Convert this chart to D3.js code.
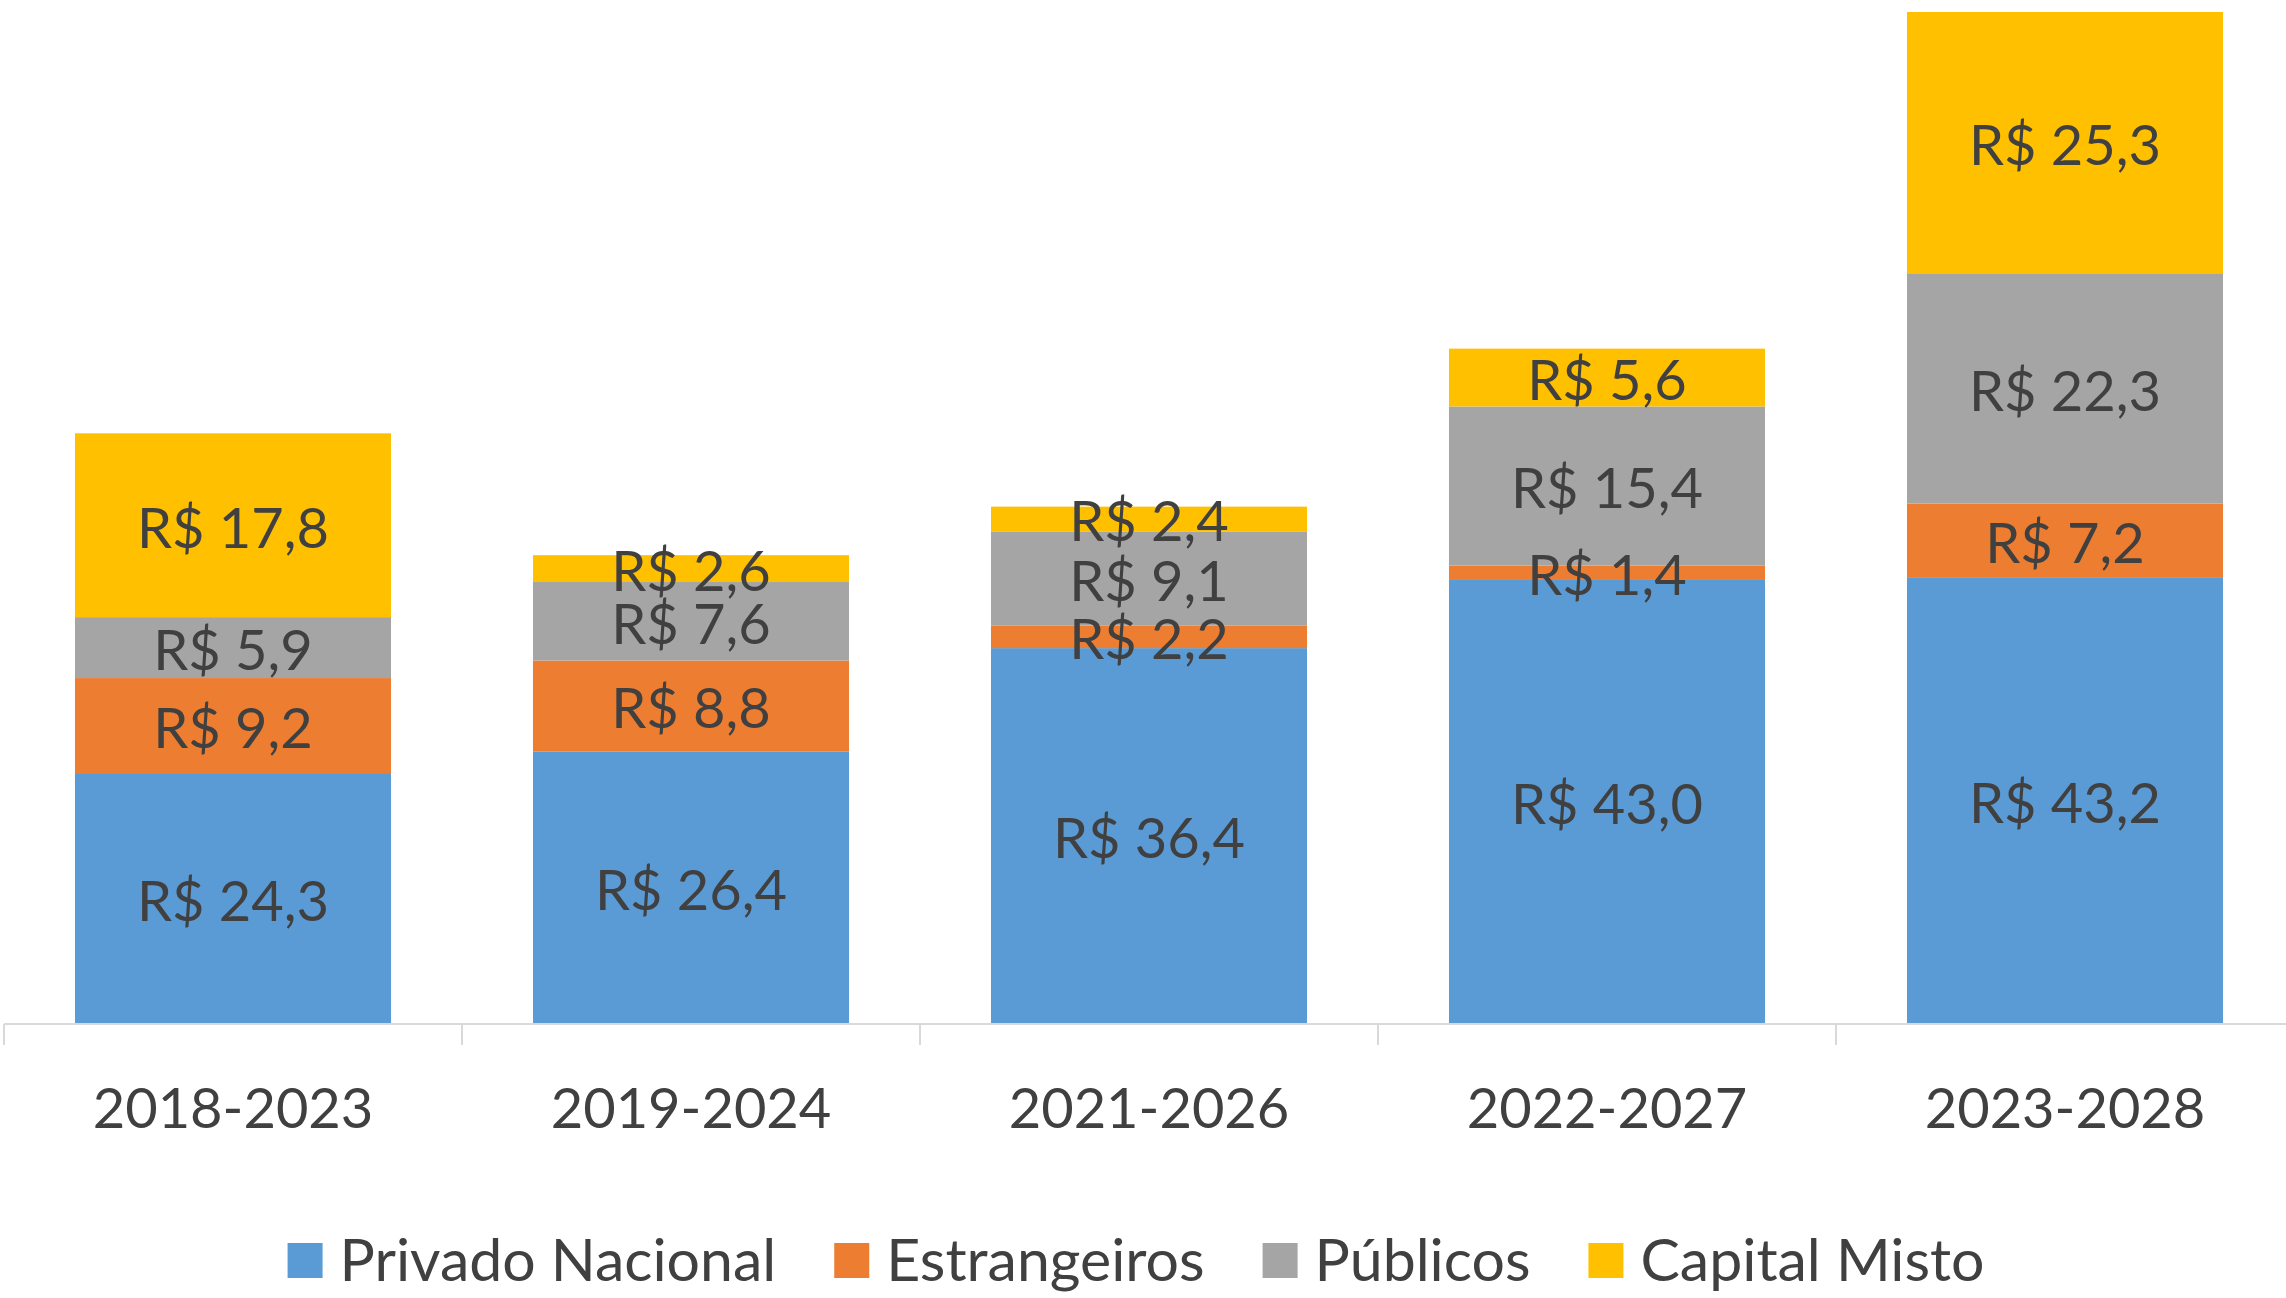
<!DOCTYPE html>
<html>
<head>
<meta charset="utf-8">
<script src="https://cdn.jsdelivr.net/npm/d3@7"></script>
<style>
  body { margin: 0; background: #fff; }
  text { font-family: Lato, "Open Sans", sans-serif; fill: #404040; }
</style>
</head>
<body>
<script>
// periods and series (R$ bilhões)
var periods = ['2018-2023', '2019-2024', '2021-2026', '2022-2027', '2023-2028'];
var seriesNames = ['Privado Nacional', 'Estrangeiros', 'Públicos', 'Capital Misto'];
var privadoNacional = [24.3, 26.4, 36.4, 43.0, 43.2];
var estrangeiros = [9.2, 8.8, 2.2, 1.4, 7.2];
var publicos = [5.9, 7.6, 9.1, 15.4, 22.3];
var capitalMisto = [17.8, 2.6, 2.4, 5.6, 25.3];
var colors = ['#5B9BD5', '#ED7D31', '#A5A5A5', '#FFC000'];

var width = 2286;
var height = 1298;
var baseY = 1024;

var keys = ['p', 'e', 'u', 'c'];
var rows = periods.map(function(p, i) {
    return { period: p, p: privadoNacional[i], e: estrangeiros[i], u: publicos[i], c: capitalMisto[i] };
});

var stacked = d3.stack().keys(keys)(rows);

var svg = d3.select('body').append('svg')
    .attr('width', width)
    .attr('height', height);

var x = d3.scaleBand()
    .domain(periods)
    .range([4, 2294])
    .paddingInner(0.31)
    .paddingOuter(0.155);

var band = d3.scaleBand().domain(periods).range([4, 2294]);

var y = d3.scaleLinear()
    .domain([0, 98])
    .range([baseY, 12]);

var fmt = function(v) { return 'R$ ' + d3.format('.1f')(v).replace('.', ','); };

// bars
var layers = svg.append('g').selectAll('g')
    .data(stacked)
    .enter().append('g')
    .attr('fill', function(d, i) { return colors[i]; });

layers.selectAll('rect')
    .data(function(d) { return d; })
    .enter().append('rect')
    .attr('x', function(d) { return x(d.data.period); })
    .attr('y', function(d) { return y(d[1]); })
    .attr('width', x.bandwidth())
    .attr('height', function(d) { return y(d[0]) - y(d[1]); });

// data labels (centred in each segment, like the original; small ones overlap)
var labels = svg.append('g');
stacked.forEach(function(layer) {
    layer.forEach(function(d) {
        labels.append('text')
            .attr('x', x(d.data.period) + x.bandwidth() / 2)
            .attr('y', (y(d[0]) + y(d[1])) / 2)
            .attr('dy', '0.4em')
            .attr('text-anchor', 'middle')
            .style('font-size', '56px')
            .text(fmt(d[1] - d[0]));
    });
});

// x axis
var axis = svg.append('g')
    .attr('transform', 'translate(0,' + baseY + ')');

axis.append('line')
    .attr('x1', 4).attr('x2', 2294)
    .attr('stroke', '#D9D9D9').attr('stroke-width', 2);

axis.selectAll('line.tick')
    .data(periods)
    .enter().append('line')
    .attr('class', 'tick')
    .attr('x1', function(d) { return band(d); })
    .attr('x2', function(d) { return band(d); })
    .attr('y1', 0).attr('y2', 21)
    .attr('stroke', '#D9D9D9').attr('stroke-width', 2);

axis.selectAll('text')
    .data(periods)
    .enter().append('text')
    .attr('x', function(d) { return band(d) + band.bandwidth() / 2; })
    .attr('y', 84)
    .attr('dy', '0.36em')
    .attr('text-anchor', 'middle')
    .style('font-size', '56px')
    .text(function(d) { return d; });

// legend
var legend = svg.append('g');
var lx = 0;
seriesNames.forEach(function(name, i) {
    var item = legend.append('g').attr('transform', 'translate(' + lx + ',0)');
    item.append('rect')
        .attr('x', 0).attr('y', -17)
        .attr('width', 35).attr('height', 35)
        .attr('fill', colors[i]);
    var t = item.append('text')
        .attr('x', 52)
        .attr('y', 0)
        .attr('dy', '0.36em')
        .style('font-size', '59px')
        .text(name);
    lx += 52 + t.node().getComputedTextLength() + 58;
});
var legendW = lx - 58;
legend.attr('transform', 'translate(' + (1136 - legendW / 2) + ',1260)');
</script>
</body>
</html>
